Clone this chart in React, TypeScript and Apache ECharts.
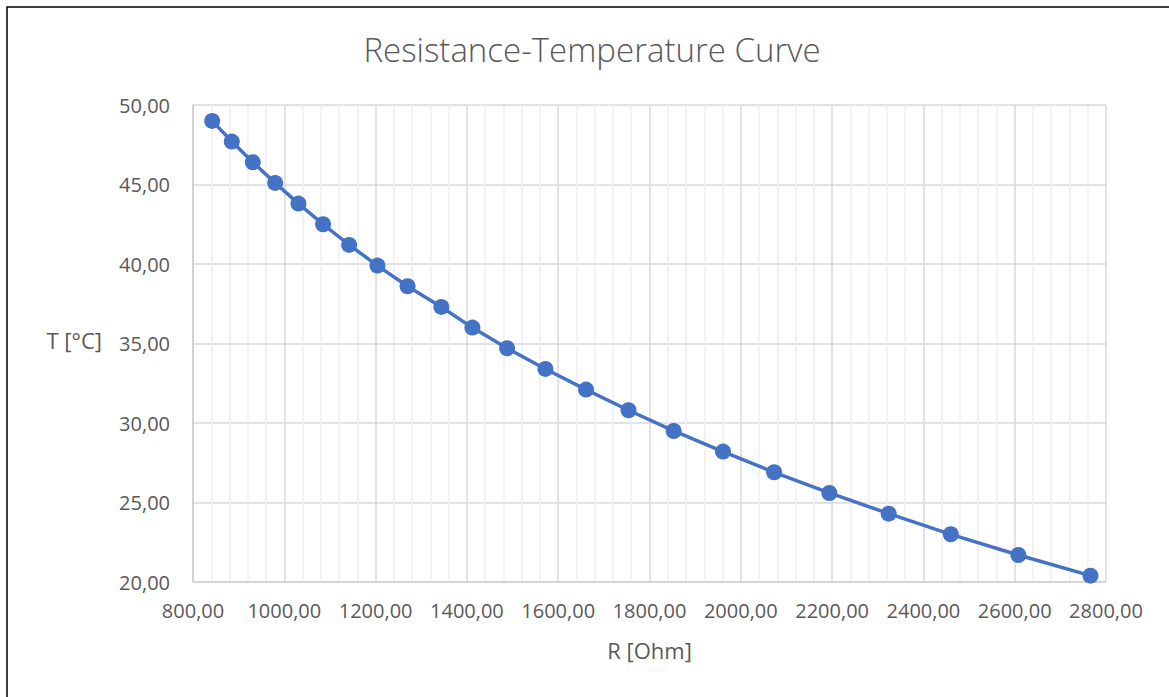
import React, { useEffect, useRef } from "react";
import * as echarts from "echarts";

const resistance = [842, 885, 931, 980, 1031, 1085, 1142, 1204, 1270, 1344, 1412, 1488, 1572, 1661, 1754, 1853, 1961, 2073, 2194, 2324, 2460, 2608, 2766];
const temperature = [49.0, 47.7, 46.4, 45.1, 43.8, 42.5, 41.2, 39.9, 38.6, 37.3, 36.0, 34.7, 33.4, 32.1, 30.8, 29.5, 28.2, 26.9, 25.6, 24.3, 23.0, 21.7, 20.4];

const titleText = "Resistance-Temperature Curve";
const xTitle = "R [Ohm]";
const yTitle = "T [°C]";

const FONT = "'Open Sans', 'Noto Sans', sans-serif";
const TXT = "#595959";

const fmt = (v: number) => v.toFixed(2).replace(".", ",");

export default function App() {
  const ref = useRef<HTMLDivElement>(null);
  useEffect(() => {
    document.body.style.margin = "0";
    if (!ref.current) return;
    const chart = echarts.init(ref.current, null, { renderer: "svg" });
    const data = resistance.map((r, i) => [r, temperature[i]]);
    chart.setOption({
      animation: false,
      backgroundColor: "#ffffff",
      title: {
        text: titleText,
        left: 587,
        top: 28,
        textAlign: "center",
        textStyle: { fontFamily: FONT, fontSize: 33, fontWeight: 300, color: TXT },
      },
      grid: { left: 193, right: 63, top: 105, bottom: 115 },
      xAxis: {
        type: "value",
        min: 800,
        max: 2800,
        interval: 200,
        axisLine: { show: true, lineStyle: { color: "#cfcfcf", width: 1.5 } },
        axisTick: { show: false },
        minorTick: { show: false, splitNumber: 5 },
        minorSplitLine: { show: true, lineStyle: { color: "#efefef", width: 1.5 } },
        splitLine: { show: true, lineStyle: { color: "#d9d9d9", width: 1.5 } },
        axisLabel: { formatter: fmt, fontFamily: FONT, fontSize: 20, color: TXT, margin: 18 },
        name: xTitle,
        nameLocation: "middle",
        nameGap: 57,
        nameTextStyle: { fontFamily: FONT, fontSize: 22, color: TXT },
      },
      yAxis: {
        type: "value",
        min: 20,
        max: 50,
        interval: 5,
        axisLine: { show: true, lineStyle: { color: "#cfcfcf", width: 1.5 } },
        axisTick: { show: false },
        splitLine: { show: true, lineStyle: { color: "#d9d9d9", width: 1.5 } },
        axisLabel: { formatter: fmt, fontFamily: FONT, fontSize: 20, color: TXT, margin: 23 },
      },
      graphic: [
        {
          type: "text",
          right: 1169 - 102,
          top: 329,
          style: { text: yTitle, fontFamily: FONT, fontSize: 22, fill: TXT },
        },
        {
          type: "rect",
          shape: { x: 7, y: 7, width: 1300, height: 800 },
          style: { fill: "none", stroke: "#000000", lineWidth: 1.5 },
          silent: true,
        },
      ],
      series: [
        {
          type: "line",
          data,
          symbol: "circle",
          symbolSize: 16,
          lineStyle: { color: "#4472C4", width: 3.5 },
          itemStyle: { color: "#4472C4" },
          clip: false,
        },
      ],
    });
    return () => chart.dispose();
  }, []);
  return <div ref={ref} style={{ width: 1169, height: 697 }} />;
}
